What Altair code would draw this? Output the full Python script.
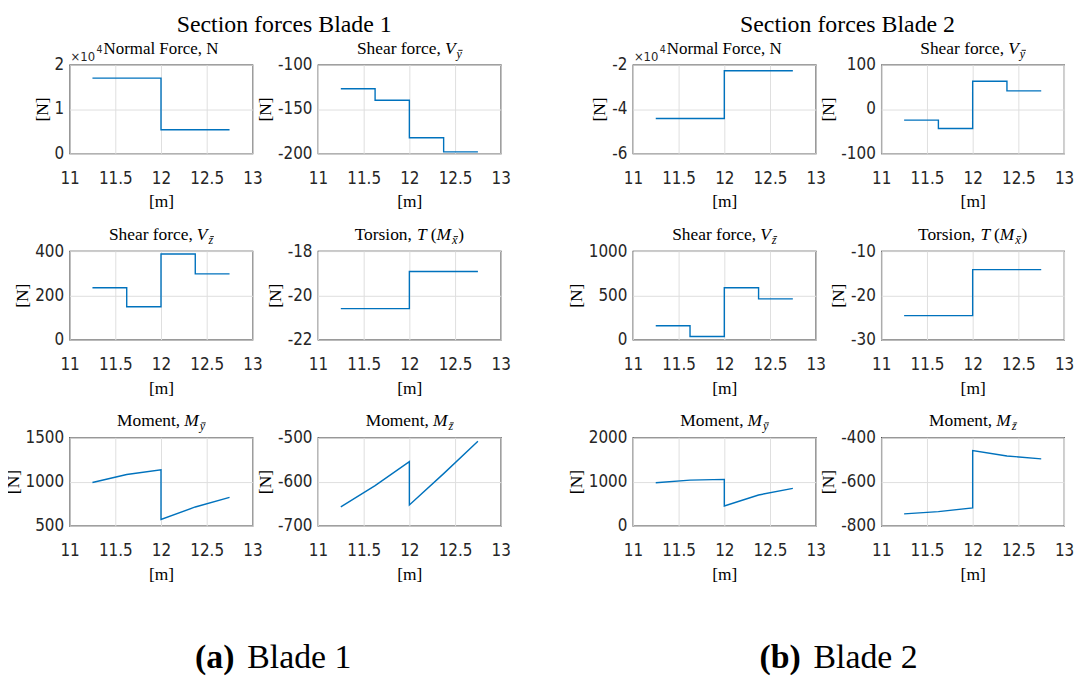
import altair as alt
import pandas as pd

# ---------------- data ----------------
x_nodes = [11.25, 11.625, 12.0, 12.375, 12.75]
x_ticks = [11, 11.5, 12, 12.5, 13]

# Blade 1 (piecewise constant per element)
b1_normal = [17000, 17000, 5300, 5300]
b1_vy = [-127, -140, -182.5, -198.5]
b1_vz = [234, 148, 387, 297]
b1_torsion = [-20.6, -20.6, -18.92, -18.92]
# Blade 1 moments (nodes of left element group, then right element group)
b1_my_left = [990, 1080, 1133]
b1_my_right = [571, 713, 822]
b1_mz_left = [-657, -609, -555]
b1_mz_right = [-653, -582, -509]

# Blade 2
b2_normal = [-44300, -44300, -22700, -22700]
b2_vy = [-25, -44, 63, 41]
b2_vz = [155, 34, 585, 460]
b2_torsion = [-24.6, -24.6, -14.2, -14.2]
b2_my_left = [974, 1034, 1049]
b2_my_right = [449, 697, 846]
b2_mz_left = [-746, -736, -719]
b2_mz_right = [-460, -484, -497]

# y tick values per panel
b1_ticks = {"normal": [0, 10000, 20000], "vy": [-200, -150, -100], "vz": [0, 200, 400],
            "tor": [-22, -20, -18], "my": [500, 1000, 1500], "mz": [-700, -600, -500]}
b2_ticks = {"normal": [-60000, -40000, -20000], "vy": [-100, 0, 100], "vz": [0, 500, 1000],
            "tor": [-30, -20, -10], "my": [0, 1000, 2000], "mz": [-800, -600, -400]}

# text  (piece, style, size, dy, gap, overbar)
main_titles = ["Section forces Blade 1", "Section forces Blade 2"]
caption_tags = ["(a)", "(b)"]
caption_names = ["Blade 1", "Blade 2"]
exp_text = ["\u00d710", "4"]
title_normal = [("Normal Force, N", "normal", 17, 0, 0, False)]
title_vy = [("Shear force,", "normal", 17.5, 0, 0, False), ("V", "italic", 17.5, 0, 4, False),
            ("y", "italic", 12, 4, 1, True)]
title_vz = [("Shear force,", "normal", 17.5, 0, 0, False), ("V", "italic", 17.5, 0, 4, False),
            ("z", "italic", 12, 4, 1, True)]
title_tor = [("Torsion,", "normal", 17.5, 0, 0, False), ("T", "italic", 17.5, 0, 4, False),
             ("(", "normal", 17.5, 0, 4, False), ("M", "italic", 17.5, 0, 0, False),
             ("x", "italic", 12, 4, 1, True), (")", "normal", 17.5, 0, 1, False)]
title_my = [("Moment,", "normal", 17.5, 0, 0, False), ("M", "italic", 17.5, 0, 4, False),
            ("y", "italic", 12, 4, 1, True)]
title_mz = [("Moment,", "normal", 17.5, 0, 0, False), ("M", "italic", 17.5, 0, 4, False),
            ("z", "italic", 12, 4, 1, True)]

# ---------------- styling ----------------
SERIF = "Liberation Serif"
SANS = "'Liberation Sans Narrow', 'DejaVu Sans Condensed', 'Liberation Sans', sans-serif"
BLUE = "#0072BD"
W, H = 184, 89

REG = {'S': .556, 'h': .5, 'e': .444, 'a': .444, 'r': .333, 'f': .333, 'o': .5, 'c': .444, ',': .25,
       ' ': .25, 'T': .611, 's': .389, 'i': .278, 'n': .5, 'M': .889, 'm': .778, 't': .278, 'N': .722,
       'l': .278, 'F': .556, '(': .333, ')': .333, 'B': .667, 'd': .5, '1': .5, '2': .5}
ITA = {'V': .611, 'T': .556, 'M': .833, 'y': .444, 'z': .389, 'x': .444}
BOLD = {'(': .333, ')': .333, 'a': .5, 'b': .556}


def text_width(s, style, size, weight="normal"):
    table = BOLD if weight == "bold" else (ITA if style == "italic" else REG)
    return sum(table.get(c, 0.5) for c in s) * size


def text_layer(text, x, y, size, style="normal", weight="normal", align="left", dy=0, font=SERIF,
               color="black"):
    return alt.Chart(pd.DataFrame({"t": [text]})).mark_text(
        align=align, baseline="alphabetic", font=font, fontSize=size, fontStyle=style,
        fontWeight=weight, dy=dy, color=color
    ).encode(text="t:N", x=alt.value(x), y=alt.value(y))


def bar_layer(x1, x2, y):
    return alt.Chart(pd.DataFrame({"b": [0]})).mark_rule(color="black", strokeWidth=0.9).encode(
        x=alt.value(x1), x2=alt.value(x2), y=alt.value(y), y2=alt.value(y))


def title_layers(pieces, center, baseline):
    total = sum(g + text_width(t, s, z) for t, s, z, d, g, b in pieces)
    x = center - total / 2
    out = []
    for t, s, z, d, g, bar in pieces:
        x += g
        w = text_width(t, s, z)
        out.append(text_layer(t, x, baseline, z, style=s, dy=d))
        if bar:
            out.append(bar_layer(x + 1.8, x + w + 0.8, baseline + d - 0.55 * z - 1))
        x += w
    return out


def step_df(vals):
    rows, o = [], 0
    for i, v in enumerate(vals):
        rows.append({"x": x_nodes[i], "y": v, "o": o}); o += 1
        rows.append({"x": x_nodes[i + 1], "y": v, "o": o}); o += 1
    return pd.DataFrame(rows)


def moment_df(left, right):
    xs = x_nodes[:3] + x_nodes[2:]
    ys = list(left) + list(right)
    return pd.DataFrame({"x": xs, "y": ys, "o": list(range(len(xs)))})


def panel(df, ticks, title, scale10k=False, extras=()):
    if scale10k:
        lab = "replace(format(datum.value / 10000, ''), '\u2212', '-')"
    else:
        lab = "replace(format(datum.value, ''), '\u2212', '-')"
    line = alt.Chart(df).mark_line(color=BLUE, strokeWidth=1.4).encode(
        x=alt.X("x:Q", scale=alt.Scale(domain=[11, 13], nice=False, zero=False),
                axis=alt.Axis(values=x_ticks, title="[m]", labelExpr="format(datum.value, '')")),
        y=alt.Y("y:Q", scale=alt.Scale(domain=[ticks[0], ticks[-1]], nice=False, zero=False),
                axis=alt.Axis(values=ticks, title="[N]", labelExpr=lab)),
        order="o:Q",
    )
    layers = [line] + title_layers(title, W / 2, -11) + list(extras)
    if scale10k:
        layers.append(text_layer(exp_text[0], 1, -4, 13, font=SANS, color="#262626"))
        layers.append(text_layer(exp_text[1], 27, -12, 10.5, font=SANS, color="#262626"))
    return alt.layer(*layers).properties(width=W, height=H)


def caption_layers(i, center, baseline):
    size = 34
    tag_w = text_width(caption_tags[i], "normal", size, "bold")
    name_w = text_width(caption_names[i], "normal", size)
    gap = 13
    x0 = center - (tag_w + gap + name_w) / 2
    return [text_layer(caption_tags[i], x0, baseline, size, weight="bold"),
            text_layer(caption_names[i], x0 + tag_w + gap, baseline, size)]


anchor = alt.Chart(pd.DataFrame({"a": [0]})).mark_rule(strokeOpacity=0, strokeWidth=0).encode(
    x=alt.value(-61), x2=alt.value(-61), y=alt.value(-56), y2=alt.value(-50))


def spacer():
    return alt.Chart(pd.DataFrame({"t": [""]})).mark_text().encode(
        text="t:N", x=alt.value(0), y=alt.value(0)
    ).properties(width=1, height=H, view=alt.ViewBackground(strokeOpacity=0))


def blade(i, normal, vy, vz, tor, myl, myr, mzl, mzr, ticks, title_center, cap_center, extra_first=()):
    p1 = panel(step_df(normal), ticks["normal"], title_normal, scale10k=True,
               extras=[text_layer(main_titles[i], title_center, -33, 24, align="center")] + list(extra_first))
    p2 = panel(step_df(vy), ticks["vy"], title_vy)
    p3 = panel(step_df(vz), ticks["vz"], title_vz)
    p4 = panel(step_df(tor), ticks["tor"], title_tor)
    p5 = panel(moment_df(myl, myr), ticks["my"], title_my, extras=caption_layers(i, cap_center, 232))
    p6 = panel(moment_df(mzl, mzr), ticks["mz"], title_mz)
    return [(p1, p2), (p3, p4), (p5, p6)]


g1 = blade(0, b1_normal, b1_vy, b1_vz, b1_torsion, b1_my_left, b1_my_right, b1_mz_left, b1_mz_right,
           b1_ticks, 216, 205, extra_first=[anchor])
g2 = blade(1, b2_normal, b2_vy, b2_vz, b2_torsion, b2_my_left, b2_my_right, b2_mz_left, b2_mz_right,
           b2_ticks, 216, 207)

cells = []
for r in range(3):
    cells += [g1[r][0], g1[r][1], spacer(), g2[r][0], g2[r][1]]

chart = alt.concat(*cells, columns=5, spacing={"row": 98.5, "column": 66}, bounds="flush").properties(
    padding={"left": -5, "top": -2, "right": 0, "bottom": 0}
).configure_view(
    stroke="#262626", strokeWidth=1.2
).configure_axis(
    grid=True, gridColor="#dfdfdf", gridWidth=1, domain=False, ticks=False,
    labelFont=SANS, labelFontSize=17, labelColor="#262626", labelPadding=6,
    labelFlush=False, labelOverlap=False,
    titleFont=SERIF, titleFontSize=17.5, titleFontWeight="normal", titleColor="black", titlePadding=3,
).configure_axisX(
    labelPadding=17, titlePadding=7
)

chart.save("out.html", embed_options={"renderer": "svg", "actions": False})
